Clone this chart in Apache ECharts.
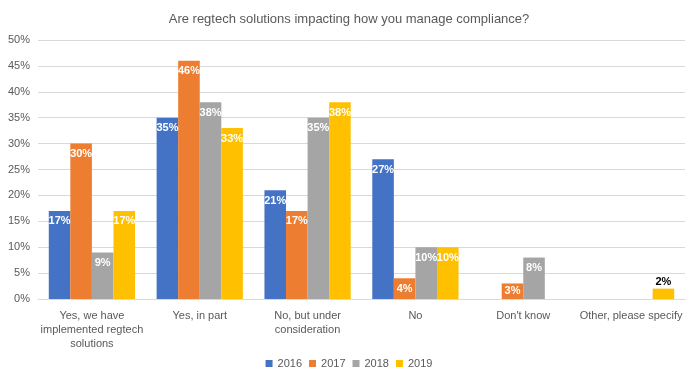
<!DOCTYPE html>
<html><head><meta charset="utf-8">
<script src="https://cdn.jsdelivr.net/npm/echarts@6/dist/echarts.min.js"></script>
<style>html,body{margin:0;padding:0;background:#fff}#c{width:698px;height:386px}</style>
</head><body><div id="c"></div>
<script>
var titleText = 'Are regtech solutions impacting how you manage compliance?';
var categories = ['Yes, we have implemented regtech solutions', 'Yes, in part', 'No, but under consideration', 'No', "Don't know", 'Other, please specify'];
var tickLabels = ['Yes, we have\nimplemented regtech\nsolutions', 'Yes, in part', 'No, but under\nconsideration', 'No', "Don't know", 'Other, please specify'];
var seriesNames = ['2016', '2017', '2018', '2019'];
var v2016 = [17, 35, 21, 27, null, null];
var v2017 = [30, 46, 17, 4, 3, null];
var v2018 = [9, 38, 35, 10, 8, null];
var v2019 = [17, 33, 38, 10, null, 2];
var colors = ['#4472C4', '#ED7D31', '#A5A5A5', '#FFC000'];
var yTicks = [0, 5, 10, 15, 20, 25, 30, 35, 40, 45, 50];

var font = 'Liberation Sans';
var allValues = [v2016, v2017, v2018, v2019];
function mk(i) {
  return {
    name: seriesNames[i], type: 'bar', barGap: '0%', barCategoryGap: '20%',
    itemStyle: { color: colors[i] },
    data: allValues[i].map(function (v) {
      if (v === null) return null;
      if (v < 3) return { value: v, label: { position: 'top', color: '#000', distance: 1 } };
      if (v < 5) return { value: v, label: { position: 'inside' } };
      return v;
    }),
    label: { show: true, position: 'insideTop', distance: 5, color: '#fff', fontFamily: font, fontSize: 11, fontWeight: 'bold', formatter: '{c}%' }
  };
}
var chart = echarts.init(document.getElementById('c'), null, { renderer: 'canvas' });
chart.setOption({
  animation: false,
  color: colors,
  title: { text: titleText, left: 'center', top: 8, textStyle: { fontFamily: font, fontSize: 13, fontWeight: 'normal', color: '#595959' } },
  grid: { left: 38, right: 13, top: 40, bottom: 87, containLabel: false },
  legend: { bottom: 12, left: 'center', itemWidth: 7, itemHeight: 7, itemGap: 7, icon: 'rect', textStyle: { fontFamily: font, fontSize: 11, color: '#595959' }, data: seriesNames },
  xAxis: {
    type: 'category', data: categories,
    axisLine: { lineStyle: { color: '#D9D9D9' } }, axisTick: { show: false },
    axisLabel: { interval: 0, margin: 10, lineHeight: 14, fontFamily: font, fontSize: 11, color: '#595959', formatter: function (v, i) { return tickLabels[i]; } }
  },
  yAxis: {
    type: 'value', min: yTicks[0], max: yTicks[yTicks.length - 1], interval: 5,
    axisLine: { show: false }, axisTick: { show: false },
    splitLine: { lineStyle: { color: '#D9D9D9' } },
    axisLabel: { fontFamily: font, fontSize: 11, color: '#595959', margin: 8, formatter: '{value}%' }
  },
  series: [mk(0), mk(1), mk(2), mk(3)]
});
</script></body></html>
